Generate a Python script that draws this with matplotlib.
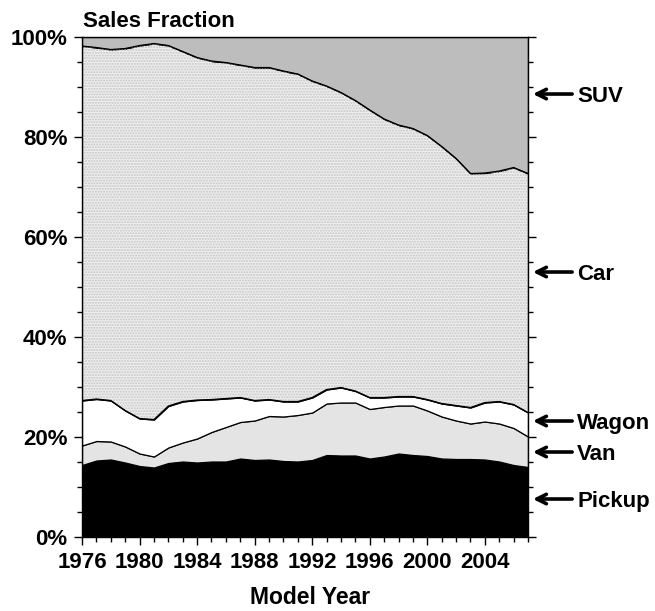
import matplotlib
matplotlib.use("Agg")
import matplotlib.pyplot as plt
import matplotlib.transforms as mtransforms
import numpy as np

plt.rcParams['font.family'] = ['Liberation Sans', 'DejaVu Sans']
plt.rcParams['font.weight'] = 'bold'

years = list(range(1976, 2008))

# sales fraction (%) by vehicle type
pickup = [14.4, 15.3, 15.5, 14.9, 14.2, 13.9, 14.8, 15.1, 14.9, 15.1, 15.1, 15.7, 15.4, 15.5, 15.2, 15.1,
          15.4, 16.4, 16.3, 16.3, 15.7, 16.1, 16.7, 16.4, 16.2, 15.7, 15.6, 15.6, 15.5, 15.1, 14.4, 14.0]
van = [3.9, 3.9, 3.6, 3.2, 2.5, 2.2, 3.1, 3.8, 4.8, 5.9, 6.9, 7.3, 7.9, 8.7, 8.9, 9.3,
       9.5, 10.3, 10.6, 10.6, 9.9, 9.9, 9.6, 9.9, 9.1, 8.4, 7.7, 7.1, 7.6, 7.6, 7.4, 6.1]
wagon = [9.0, 8.4, 8.2, 7.2, 7.0, 7.4, 8.3, 8.2, 7.7, 6.5, 5.7, 4.9, 4.0, 3.3, 3.0, 2.7,
         3.0, 2.8, 3.0, 2.3, 2.3, 1.9, 1.8, 1.8, 2.2, 2.6, 3.0, 3.2, 3.8, 4.4, 4.7, 4.8]
car = [70.9, 70.3, 70.2, 72.4, 74.6, 75.2, 72.1, 70.0, 68.5, 67.7, 67.2, 66.5, 66.6, 66.4, 66.1, 65.5,
       63.3, 60.7, 59.0, 58.1, 57.5, 55.7, 54.3, 53.6, 52.8, 51.4, 49.4, 46.8, 45.9, 46.1, 47.4, 47.8]
suv = [1.8, 2.1, 2.5, 2.3, 1.7, 1.3, 1.7, 2.9, 4.1, 4.8, 5.1, 5.6, 6.1, 6.1, 6.8, 7.4,
       8.8, 9.8, 11.1, 12.7, 14.6, 16.4, 17.6, 18.3, 19.7, 21.9, 24.3, 27.3, 27.2, 26.8, 26.1, 27.3]

labels = ['Pickup', 'Van', 'Wagon', 'Car', 'SUV']
colors = ['black', '#e4e4e4', 'white', '#efefef', '#bdbdbd']
# where each label's arrow points (percent)
label_y = [7.6, 17.0, 23.2, 53.0, 88.6]

fig = plt.figure(figsize=(6.55, 6.11), dpi=100)
ax = fig.add_axes([0.1252, 0.1211, 0.6809, 0.8183])

layers = ax.stackplot(years, pickup, van, wagon, car, suv, colors=colors,
                      edgecolor='black', linewidth=0.9)

# stipple texture on the car band
bottom = np.array(pickup) + np.array(van) + np.array(wagon)
ax.fill_between(years, bottom, bottom + np.array(car), facecolor='none',
                edgecolor='#c4c4c4', hatch='......', linewidth=0)
ax.plot(years, bottom + np.array(car), color='black', lw=0.9)
ax.plot(years, bottom, color='black', lw=0.9)

ax.set_xlim(1976, 2007)
ax.set_ylim(0, 100)
ax.set_xticks(range(1976, 2008, 4))
ax.set_xticks(range(1976, 2008), minor=True)
ax.set_yticks(range(0, 101, 20))
ax.set_yticks(range(0, 101, 5), minor=True)
ax.set_yticklabels([str(v) + '%' for v in range(0, 101, 20)])

ax.tick_params(axis='both', which='major', direction='out', length=6, width=1,
               labelsize=16)
ax.tick_params(axis='x', which='major', pad=5)
ax.tick_params(axis='y', which='major', pad=4.5)
ax.tick_params(axis='both', which='minor', direction='out', length=3.5, width=1)
ax.tick_params(axis='y', which='both', right=True)
for s in ax.spines.values():
    s.set_linewidth(1)

fig.text(310 / 655, 1 - 609 / 611, 'Model Year', fontsize=16.5, fontweight='bold',
         ha='center', va='bottom')
fig.text(83 / 655, 1 - 27 / 611, 'Sales Fraction', fontsize=16, fontweight='bold',
         ha='left', va='baseline')

trans = mtransforms.blended_transform_factory(ax.transAxes, ax.transData)
for name, yv in zip(labels, label_y):
    ax.annotate('', xy=(1.011, yv), xytext=(1.099, yv), xycoords=trans, textcoords=trans,
                arrowprops=dict(arrowstyle='->', lw=2.6, color='black',
                                shrinkA=0, shrinkB=0, mutation_scale=17),
                annotation_clip=False)
    ax.text(1.11, yv - 0.5, name, transform=trans, fontsize=16, fontweight='bold',
            ha='left', va='center', clip_on=False)

fig.savefig('out.png', dpi=100)
